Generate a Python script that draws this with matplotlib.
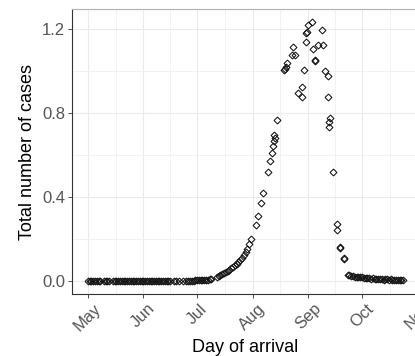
import numpy as np
import matplotlib
matplotlib.use("Agg")
import matplotlib.pyplot as plt
import matplotlib.dates as mdates
from matplotlib.ticker import FixedLocator

plt.rcParams['font.family'] = ['Liberation Sans', 'DejaVu Sans']

# ---- data: day of arrival (days after 1 May) and total number of cases ----
start = np.datetime64('2019-05-01')

early_days = [d for d in range(0, 59) if d not in (8, 13, 47, 50, 52, 54)]
early_vals = [0.0] * len(early_days)

rise_days = [59, 60, 61, 62, 63, 64, 65, 66, 67, 68, 69, 72, 73, 74, 75, 76, 77,
             78, 79, 80, 81, 82, 83, 84, 85, 86, 87, 88, 89, 90, 91]
rise_vals = [0.002, 0.003, 0.003, 0.004, 0.004, 0.005, 0.006, 0.006, 0.007, 0.008,
             0.011, 0.02, 0.024, 0.028, 0.034, 0.038, 0.043, 0.048, 0.054, 0.061,
             0.068, 0.075, 0.083, 0.091, 0.100, 0.110, 0.122, 0.140, 0.155, 0.175, 0.200]

peak_days = [93.8, 94.7, 96.6, 97.9, 100.7, 101.6, 102.7, 103.1, 104.0, 104.2, 104.0,
             105.7, 109.7, 110.3, 110.6, 111.0, 113.8, 115.8, 114.6, 117.5, 119.6,
             119.6, 120.6, 121.5, 121.5, 122.4, 122.9, 124.9, 125.8, 126.7, 126.8,
             128.6, 130.8, 131.3, 132.6, 133.8, 133.8, 135.1, 134.8, 134.8, 136.6,
             138.8, 138.8, 140.7, 140.7, 142.9, 143.0, 145.3]
peak_vals = [0.268, 0.311, 0.373, 0.420, 0.520, 0.570, 0.608, 0.645, 0.668, 0.680, 0.695,
             0.767, 1.005, 1.013, 1.020, 1.037, 1.079, 1.079, 1.116, 0.894, 0.878,
             0.925, 1.008, 1.140, 1.180, 1.187, 1.219, 1.235, 1.108, 1.052, 1.050,
             1.127, 1.195, 1.124, 1.001, 0.976, 0.875, 0.775, 0.759, 0.732, 0.518,
             0.270, 0.243, 0.159, 0.163, 0.103, 0.110, 0.030]

tail_days = list(range(146, 177))
tail_vals = [0.028, 0.025, 0.022, 0.020, 0.020, 0.018, 0.017, 0.018, 0.015, 0.015,
             0.014, 0.013, 0.012, 0.015, 0.012, 0.010, 0.009, 0.010, 0.008, 0.007,
             0.009, 0.008, 0.007, 0.008, 0.006, 0.007, 0.006, 0.005, 0.005, 0.005, 0.004]

month_ticks = ['2019-05-01', '2019-06-01', '2019-07-01', '2019-08-01',
               '2019-09-01', '2019-10-01', '2019-11-01']
month_labels = ['May', 'Jun', 'Jul', 'Aug', 'Sep', 'Oct', 'Nov']
y_ticks = [0.0, 0.4, 0.8, 1.2]
y_labels = ['0.0', '0.4', '0.8', '1.2']

# ---- build ----
base = mdates.date2num(start.astype('datetime64[D]').astype(object))
days = np.array(early_days + rise_days + peak_days + tail_days, dtype=float)
vals = np.array(early_vals + rise_vals + peak_vals + tail_vals)
x = base + days

fig = plt.figure(figsize=(4.15, 3.56), dpi=100)
ax = fig.add_axes([72/415, 62/356, (419-72)/415, (294-9)/356])

ax.plot(x, vals, linestyle='none', marker='D', markersize=3.5,
        markerfacecolor='none', markeredgecolor='#111111', markeredgewidth=0.75)

xmin, xmax = base + days.min(), base + days.max()
xr = xmax - xmin
ax.set_xlim(xmin - 0.05 * xr, xmax + 0.05 * xr)
ymax = vals.max()
ax.set_ylim(-0.05 * ymax, ymax * 1.05)

tick_pos = [mdates.date2num(np.datetime64(t).astype(object)) for t in month_ticks]
ax.xaxis.set_major_locator(FixedLocator(tick_pos))
ax.set_xticklabels(month_labels, rotation=45, ha='center', va='top')
minor_x = [(a + b) / 2 for a, b in zip(tick_pos[:-1], tick_pos[1:])]
ax.xaxis.set_minor_locator(FixedLocator(minor_x))
ax.set_yticks(y_ticks)
ax.set_yticklabels(y_labels)
ax.yaxis.set_minor_locator(FixedLocator([0.2, 0.6, 1.0]))

ax.grid(which='major', color='#ebebeb', linewidth=0.8)
ax.grid(which='minor', color='#f0f0f0', linewidth=0.6)
ax.set_axisbelow(True)

ax.tick_params(axis='both', which='major', length=3, width=0.6, color='#333333',
               labelsize=12, labelcolor='#555555', pad=2)
ax.tick_params(axis='both', which='minor', length=0)

ax.spines['left'].set_color('#333333')
ax.spines['bottom'].set_color('#333333')
ax.spines['top'].set_color('#b0b0b0')
ax.spines['right'].set_color('#b0b0b0')
for s in ax.spines.values():
    s.set_linewidth(0.8)

ax.set_xlabel('Day of arrival', fontsize=13, color='black', labelpad=3.5)
ax.set_ylabel('Total number of cases', fontsize=13, color='black', labelpad=4)

fig.savefig('out.png', dpi=100)
